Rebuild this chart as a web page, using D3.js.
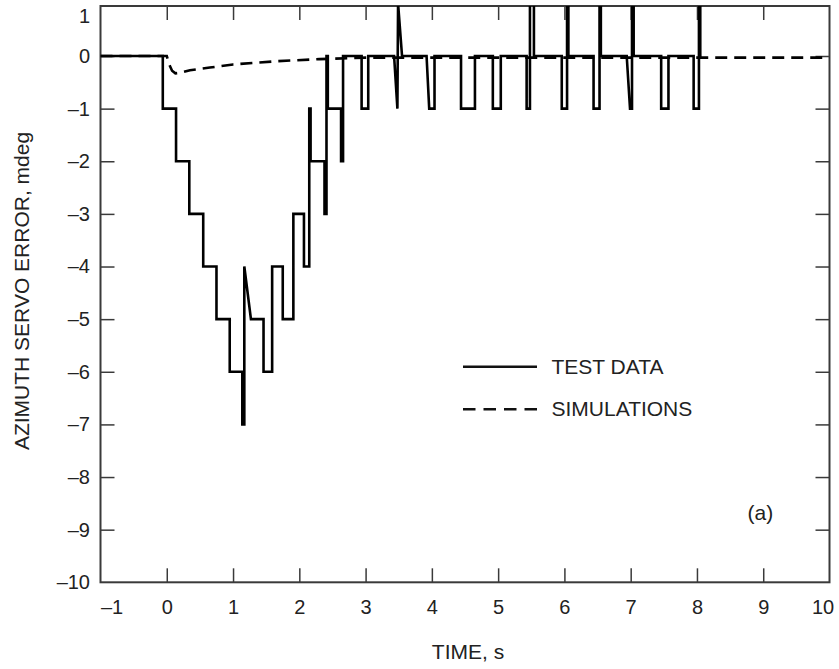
<!DOCTYPE html>
<html>
<head>
<meta charset="utf-8">
<script src="https://cdn.jsdelivr.net/npm/d3@7"></script>
<style>
  body { margin: 0; background: #fff; }
  svg { display: block; }
  .tick line { stroke: #3a3a3a; stroke-width: 1.5; }
</style>
</head>
<body>
<svg id="chart" width="839" height="669" font-family="'Liberation Sans', Arial, sans-serif"></svg>
<script>
// test data: step record (time s, error mdeg)
const testTime = [-1, -0.06, -0.06, 0.14, 0.14, 0.34, 0.34, 0.55, 0.55, 0.75, 0.75, 0.95, 0.95, 1.14, 1.14, 1.17, 1.17, 1.27, 1.46, 1.46, 1.59, 1.59, 1.75, 1.75, 1.91, 1.91, 2.07, 2.07, 2.15, 2.15, 2.17, 2.17, 2.38, 2.38, 2.41, 2.41, 2.43, 2.43, 2.63, 2.63, 2.66, 2.66, 2.94, 2.94, 3.04, 3.04, 3.43, 3.48, 3.49, 3.55, 3.92, 3.96, 4.04, 4.04, 4.44, 4.44, 4.65, 4.65, 4.92, 4.92, 5.04, 5.04, 5.43, 5.43, 5.48, 5.48, 5.54, 5.54, 5.96, 5.96, 6.04, 6.04, 6.06, 6.06, 6.44, 6.44, 6.53, 6.53, 6.55, 6.55, 6.94, 6.99, 7.02, 7.02, 7.045, 7.045, 7.46, 7.46, 7.57, 7.57, 7.95, 7.95, 8.03, 8.03, 8.05, 8.05, 8.07]
const testValue = [0, 0, -1, -1, -2, -2, -3, -3, -4, -4, -5, -5, -6, -6, -7, -7, -4, -5, -5, -6, -6, -4, -4, -5, -5, -3, -3, -4, -4, -1, -1, -2, -2, -3, -3, 0, 0, -1, -1, -2, -2, 0, 0, -1, -1, 0, 0, -1, 1, 0, 0, -1, -1, 0, 0, -1, -1, 0, 0, -1, -1, 0, 0, -1, -1, 1, 1, 0, 0, -1, -1, 1, 1, 0, 0, -1, -1, 1, 1, 0, 0, -1, -1, 1, 1, 0, 0, -1, -1, 0, 0, -1, -1, 1, 1, 0, 0]

// simulation (dashed)
const simTime = [-1, 0, 0.04, 0.08, 0.13, 0.2, 0.35, 0.65, 1.0, 1.65, 2.3, 3.0, 10]
const simValue = [0, 0, -0.17, -0.28, -0.33, -0.32, -0.27, -0.22, -0.16, -0.1, -0.06, -0.03, -0.03]

const xTicks = [-1, 0, 1, 2, 3, 4, 5, 6, 7, 8, 9, 10]
const yTicks = [1, 0, -1, -2, -3, -4, -5, -6, -7, -8, -9, -10]
const legendLabels = ["TEST DATA", "SIMULATIONS"]

const svg = d3.select("#chart")

const x = d3.scaleLinear().domain([-1, 10]).range([100.5, 829.5])
const y = d3.scaleLinear().domain([-10, 0.95]).range([582.3, 6])

const dashFmt = d => d < 0 ? "\u2013" + Math.abs(d) : String(d)

svg.append("defs").append("clipPath").attr("id", "plot")
  .append("rect")
    .attr("x", x(-1)).attr("y", y(0.95))
    .attr("width", x(10) - x(-1)).attr("height", y(-10) - y(0.95))

// axes: inward ticks on all four sides
const xAxis = svg.append("g").attr("transform", `translate(0,${y(-10)})`)
  .call(d3.axisBottom(x).tickValues(xTicks).tickSize(-14).tickSizeOuter(0).tickPadding(17.5).tickFormat(dashFmt))
svg.append("g").attr("transform", `translate(0,${y(0.95)})`)
  .call(d3.axisTop(x).tickValues(xTicks.slice(1, -1)).tickSize(-14).tickSizeOuter(0).tickFormat(""))
const yAxis = svg.append("g").attr("transform", `translate(${x(-1)},0)`)
  .call(d3.axisLeft(y).tickValues(yTicks).tickSize(-14).tickSizeOuter(0).tickPadding(10.5).tickFormat(dashFmt))
svg.append("g").attr("transform", `translate(${x(10)},0)`)
  .call(d3.axisRight(y).tickValues(yTicks.slice(1, -1)).tickSize(-14).tickSizeOuter(0).tickFormat(""))
svg.selectAll(".domain").remove()
svg.selectAll("g").attr("font-family", null).attr("font-size", null)
svg.selectAll(".tick text").attr("font-size", 20).attr("fill", "#222")
xAxis.selectAll(".tick line").filter(d => d === 10 || d === -1).remove()
yAxis.selectAll(".tick line").filter(d => d === 1 || d === -10).remove()
// end labels are nudged inside like the original
yAxis.selectAll(".tick").filter(d => d === 1).select("text").attr("y", 16 - y(1))
xAxis.selectAll(".tick").filter(d => d === -1).select("text").attr("x", 11)
xAxis.selectAll(".tick").filter(d => d === 10).select("text").attr("x", -7)

// frame
svg.append("rect")
  .attr("x", x(-1)).attr("y", y(0.95))
  .attr("width", x(10) - x(-1)).attr("height", y(-10) - y(0.95))
  .attr("fill", "none").attr("stroke", "#3a3a3a").attr("stroke-width", 2)

const sim = simTime.map((t, i) => [t, simValue[i]])
const test = testTime.map((t, i) => [t, testValue[i]])
const line = d3.line().x(d => x(d[0])).y(d => y(d[1]))

const lines = svg.append("g").attr("clip-path", "url(#plot)")
lines.append("path").datum(sim)
  .attr("d", line).attr("fill", "none").attr("stroke", "#000")
  .attr("stroke-width", 2.6).attr("stroke-dasharray", "12,7")
lines.append("path").datum(test)
  .attr("d", line).attr("fill", "none").attr("stroke", "#000")
  .attr("stroke-width", 2.6).attr("stroke-linejoin", "miter")

// legend
const legend = svg.append("g")
legend.selectAll("line").data(legendLabels).join("line")
  .attr("x1", 463).attr("x2", 537)
  .attr("y1", (d, i) => 366.7 + i * 42.6).attr("y2", (d, i) => 366.7 + i * 42.6)
  .attr("stroke", "#111").attr("stroke-width", 2.6)
  .attr("stroke-dasharray", (d, i) => i ? "12.5,8" : null)
legend.selectAll("text").data(legendLabels).join("text")
  .attr("x", 551.5).attr("y", (d, i) => 374 + i * 42.3)
  .attr("font-size", 21).attr("fill", "#222")
  .text(d => d)

svg.append("text").attr("x", 747.5).attr("y", 520)
  .attr("font-size", 21).attr("fill", "#222").text("(a)")

svg.append("text").attr("x", 468).attr("y", 659.3)
  .attr("text-anchor", "middle").attr("font-size", 21).attr("fill", "#222")
  .text("TIME, s")

svg.append("text")
  .attr("transform", "translate(28.5,291) rotate(-90)")
  .attr("text-anchor", "middle").attr("font-size", 21).attr("fill", "#222")
  .text("AZIMUTH SERVO ERROR, mdeg")
</script>
</body>
</html>
